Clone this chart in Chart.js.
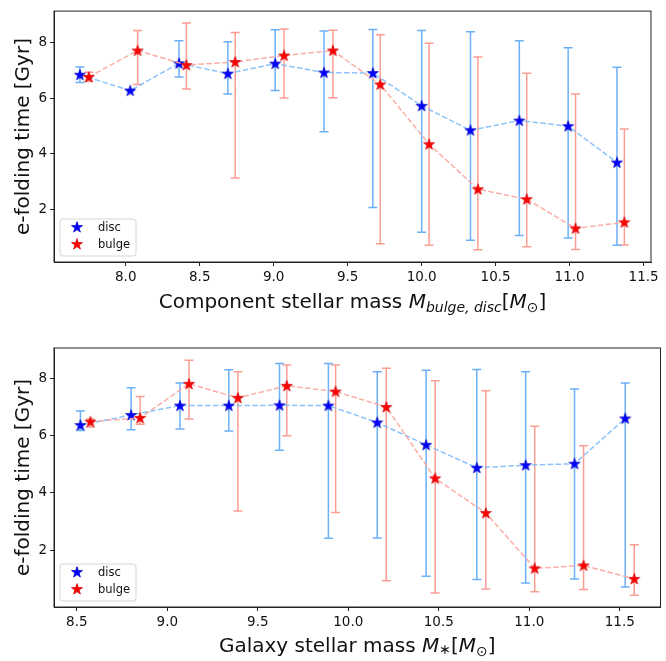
<!DOCTYPE html>
<html>
<head>
<meta charset="utf-8">
<script src="https://cdn.jsdelivr.net/npm/chart.js@4"></script>
<style>
  body { margin: 0; background: #fff; }
  canvas { position: absolute; left: 0; }
  #topChart { top: 0; }
  #bottomChart { top: 330px; }
</style>
</head>
<body>
<canvas id="topChart" width="666" height="330"></canvas>
<canvas id="bottomChart" width="666" height="331"></canvas>
<script>
// top panel: component stellar mass
const discTopX = [7.69, 8.03, 8.36, 8.69, 9.01, 9.34, 9.67, 10.00, 10.33, 10.66, 10.99, 11.32];
const discTopY = [6.84, 6.27, 7.25, 6.88, 7.24, 6.92, 6.90, 5.72, 4.84, 5.19, 4.99, 3.68];
const discTopHi = [7.12, 6.27, 8.06, 8.03, 8.46, 8.41, 8.47, 8.43, 8.39, 8.06, 7.81, 7.11];
const discTopLo = [6.56, 6.27, 6.76, 6.15, 6.27, 4.79, 2.06, 1.17, 0.88, 1.05, 0.96, 0.70];
const bulgeTopX = [7.75, 8.08, 8.41, 8.74, 9.07, 9.40, 9.72, 10.05, 10.38, 10.71, 11.04, 11.37];
const bulgeTopY = [6.76, 7.71, 7.19, 7.30, 7.53, 7.71, 6.49, 4.34, 2.72, 2.36, 1.31, 1.53];
const bulgeTopHi = [6.93, 8.43, 8.70, 8.36, 8.49, 8.44, 8.28, 7.97, 7.48, 6.89, 6.15, 4.89];
const bulgeTopLo = [6.60, 6.49, 6.33, 3.12, 6.00, 6.01, 0.76, 0.70, 0.54, 0.65, 0.55, 0.71];
const xTicksTop = [8.0, 8.5, 9.0, 9.5, 10.0, 10.5, 11.0, 11.5];

// bottom panel: galaxy stellar mass
const discBotX = [8.52, 8.80, 9.07, 9.34, 9.62, 9.89, 10.16, 10.43, 10.71, 10.98, 11.25, 11.53];
const discBotY = [6.37, 6.72, 7.05, 7.05, 7.06, 7.05, 6.46, 5.68, 4.88, 4.97, 5.02, 6.60];
const discBotHi = [6.86, 7.67, 7.84, 8.30, 8.52, 8.52, 8.23, 8.28, 8.31, 8.23, 7.63, 7.84];
const discBotLo = [6.18, 6.21, 6.23, 6.16, 5.49, 2.42, 2.43, 1.09, 0.98, 0.86, 1.00, 0.72];
const bulgeBotX = [8.575, 8.85, 9.12, 9.39, 9.66, 9.93, 10.21, 10.48, 10.76, 11.03, 11.30, 11.58];
const bulgeBotY = [6.49, 6.62, 7.81, 7.32, 7.74, 7.54, 7.00, 4.51, 3.30, 1.37, 1.47, 1.00];
const bulgeBotHi = [6.58, 7.37, 8.63, 8.23, 8.47, 8.47, 8.35, 7.92, 7.57, 6.33, 5.65, 2.19];
const bulgeBotLo = [6.30, 6.40, 6.58, 3.37, 6.00, 3.32, 0.94, 0.51, 0.65, 0.55, 0.63, 0.43];
const xTicksBot = [8.5, 9.0, 9.5, 10.0, 10.5, 11.0, 11.5];

const yTicks = [2, 4, 6, 8];
const seriesNames = ["disc", "bulge"];

const FONT = "DejaVu Sans";

function makeStar(fill, edge) {
  const c = document.createElement("canvas");
  c.width = 14;
  c.height = 14;
  const g = c.getContext("2d");
  g.beginPath();
  for (let i = 0; i < 10; i++) {
    const r = i % 2 ? 2.3 : 5.8;
    const a = -Math.PI / 2 + (i * Math.PI) / 5;
    const px = 7 + r * Math.cos(a);
    const py = 7.4 + r * Math.sin(a);
    if (i === 0) g.moveTo(px, py);
    else g.lineTo(px, py);
  }
  g.closePath();
  g.fillStyle = fill;
  g.fill();
  g.strokeStyle = edge;
  g.lineWidth = 0.7;
  g.stroke();
  return c;
}

const blueStar = makeStar("#0000ff", "#0000c0");
const redStar = makeStar("#ff0000", "#d00000");

const errorBars = {
  id: "errorBars",
  beforeDatasetsDraw(chart) {
    const { ctx, scales } = chart;
    const ds = chart.data.datasets.slice().reverse();
    ds.forEach((set) => {
      ctx.save();
      ctx.strokeStyle = set.errColor;
      ctx.lineWidth = 1.5;
      set.data.forEach((p, i) => {
        const px = scales.x.getPixelForValue(p.x);
        const top = scales.y.getPixelForValue(set.errHi[i]);
        const bot = scales.y.getPixelForValue(set.errLo[i]);
        ctx.beginPath();
        ctx.moveTo(px, top);
        ctx.lineTo(px, bot);
        ctx.moveTo(px - 4.5, top);
        ctx.lineTo(px + 4.5, top);
        ctx.moveTo(px - 4.5, bot);
        ctx.lineTo(px + 4.5, bot);
        ctx.stroke();
      });
      ctx.restore();
    });
  },
};

function drawRich(ctx, parts, cx, baseline) {
  let total = 0;
  parts.forEach((p) => {
    ctx.font = p.font;
    p.w = ctx.measureText(p.t).width;
    total += p.w;
  });
  let x = cx - total / 2;
  ctx.textAlign = "left";
  ctx.textBaseline = "alphabetic";
  parts.forEach((p) => {
    ctx.font = p.font;
    ctx.fillText(p.t, x, baseline + (p.dy || 0));
    x += p.w;
  });
}

const decor = {
  id: "decor",
  afterDraw(chart, args, opts) {
    const { ctx, chartArea: a } = chart;
    ctx.save();
    // frame
    ctx.strokeStyle = "#222";
    ctx.lineWidth = 1;
    ctx.strokeRect(a.left, a.top, a.right - a.left, a.bottom - a.top);

    // legend
    const lx = a.left + 6, ly = a.bottom - 43, lw = 76, lh = 37;
    ctx.beginPath();
    ctx.roundRect(lx, ly, lw, lh, 3);
    ctx.fillStyle = "rgba(255,255,255,0.8)";
    ctx.fill();
    ctx.strokeStyle = "#d6d6d6";
    ctx.stroke();
    ctx.drawImage(blueStar, a.left + 16, a.bottom - 42);
    ctx.drawImage(redStar, a.left + 16, a.bottom - 25);
    ctx.fillStyle = "#111";
    ctx.font = "11.5px " + FONT;
    ctx.textBaseline = "middle";
    ctx.textAlign = "left";
    ctx.fillText(seriesNames[0], a.left + 44, a.bottom - 34);
    ctx.fillText(seriesNames[1], a.left + 44, a.bottom - 17);

    // axis titles
    ctx.fillStyle = "#111";
    drawRich(ctx, opts.xParts, (a.left + a.right) / 2, a.bottom + opts.xGap);
    ctx.save();
    ctx.translate(29, (a.top + a.bottom) / 2);
    ctx.rotate(-Math.PI / 2);
    ctx.font = "20px " + FONT;
    ctx.textAlign = "center";
    ctx.textBaseline = "alphabetic";
    ctx.fillText("e-folding time [Gyr]", 0, 0);
    ctx.restore();
    ctx.restore();
  },
};

function series(xs, ys, hi, lo, name, line, err, star, order) {
  return {
    label: name,
    data: xs.map((x, i) => ({ x: x, y: ys[i] })),
    errHi: hi,
    errLo: lo,
    errColor: err,
    showLine: true,
    borderColor: line,
    borderWidth: 1.5,
    borderDash: [5.5, 2.4],
    pointStyle: star,
    order: order,
  };
}

function makeChart(id, cfg) {
  const el = document.getElementById(id);
  return new Chart(el, {
    type: "scatter",
    data: {
      datasets: [
        series(cfg.dx, cfg.dy, cfg.dhi, cfg.dlo, seriesNames[0], "rgba(120,185,250,0.85)", "rgba(100,172,250,0.95)", blueStar, 1),
        series(cfg.bx, cfg.by, cfg.bhi, cfg.blo, seriesNames[1], "rgba(250,165,155,0.9)", "rgba(250,140,128,0.85)", redStar, 0),
      ],
    },
    options: {
      responsive: false,
      animation: false,
      devicePixelRatio: 1,
      events: [],
      layout: { padding: cfg.padding },
      plugins: {
        legend: { display: false },
        tooltip: { enabled: false },
        decor: { xParts: cfg.xParts, xGap: cfg.xGap },
      },
      scales: {
        x: {
          type: "linear",
          min: cfg.xMin,
          max: cfg.xMax,
          afterBuildTicks: (s) => { s.ticks = cfg.xTicks.map((v) => ({ value: v })); },
          afterFit: (s) => { s.height = cfg.xHeight; s.paddingLeft = 0; s.paddingRight = 0; },
          grid: { drawOnChartArea: false, drawTicks: true, tickLength: 4, tickColor: "#222" },
          border: { display: true, color: "#222" },
          ticks: {
            padding: 3,
            color: "#111",
            font: { family: FONT, size: 13.5 },
            maxRotation: 0,
            autoSkip: false,
            callback: (v) => Number(v).toFixed(1),
          },
        },
        y: {
          type: "linear",
          min: cfg.yMin,
          max: cfg.yMax,
          afterBuildTicks: (s) => { s.ticks = yTicks.map((v) => ({ value: v })); },
          afterFit: (s) => { s.width = 54; },
          grid: { drawOnChartArea: false, drawTicks: true, tickLength: 4, tickColor: "#222" },
          border: { display: true, color: "#222" },
          ticks: {
            padding: 3,
            color: "#111",
            font: { family: FONT, size: 13.5 },
            callback: (v) => String(v),
          },
        },
      },
    },
    plugins: [errorBars, decor],
  });
}

const it = "italic 20px " + FONT;
const rg = "20px " + FONT;
const sub = "italic 14px " + FONT;
const subR = "14px " + FONT;

makeChart("topChart", {
  dx: discTopX, dy: discTopY, dhi: discTopHi, dlo: discTopLo,
  bx: bulgeTopX, by: bulgeTopY, bhi: bulgeTopHi, blo: bulgeTopLo,
  xTicks: xTicksTop, xMin: 7.515, xMax: 11.55, yMin: 0.1, yMax: 9.13,
  padding: { top: 5, right: 15, left: 0, bottom: 0 },
  xHeight: 68, xGap: 46,
  xParts: [
    { t: "Component stellar mass ", font: rg },
    { t: "M", font: it },
    { t: "bulge, disc", font: sub, dy: 4 },
    { t: "[", font: rg },
    { t: "M", font: it },
    { t: "\u2299", font: subR, dy: 4 },
    { t: "]", font: rg },
  ],
});

makeChart("bottomChart", {
  dx: discBotX, dy: discBotY, dhi: discBotHi, dlo: discBotLo,
  bx: bulgeBotX, by: bulgeBotY, bhi: bulgeBotHi, blo: bulgeBotLo,
  xTicks: xTicksBot, xMin: 8.374, xMax: 11.725, yMin: 0.02, yMax: 9.06,
  padding: { top: 18, right: 2, left: 0, bottom: 0 },
  xHeight: 54, xGap: 45,
  xParts: [
    { t: "Galaxy stellar mass ", font: rg },
    { t: "M", font: it },
    { t: "\u2217", font: subR, dy: 2 },
    { t: "[", font: rg },
    { t: "M", font: it },
    { t: "\u2299", font: subR, dy: 4 },
    { t: "]", font: rg },
  ],
});
</script>
</body>
</html>
